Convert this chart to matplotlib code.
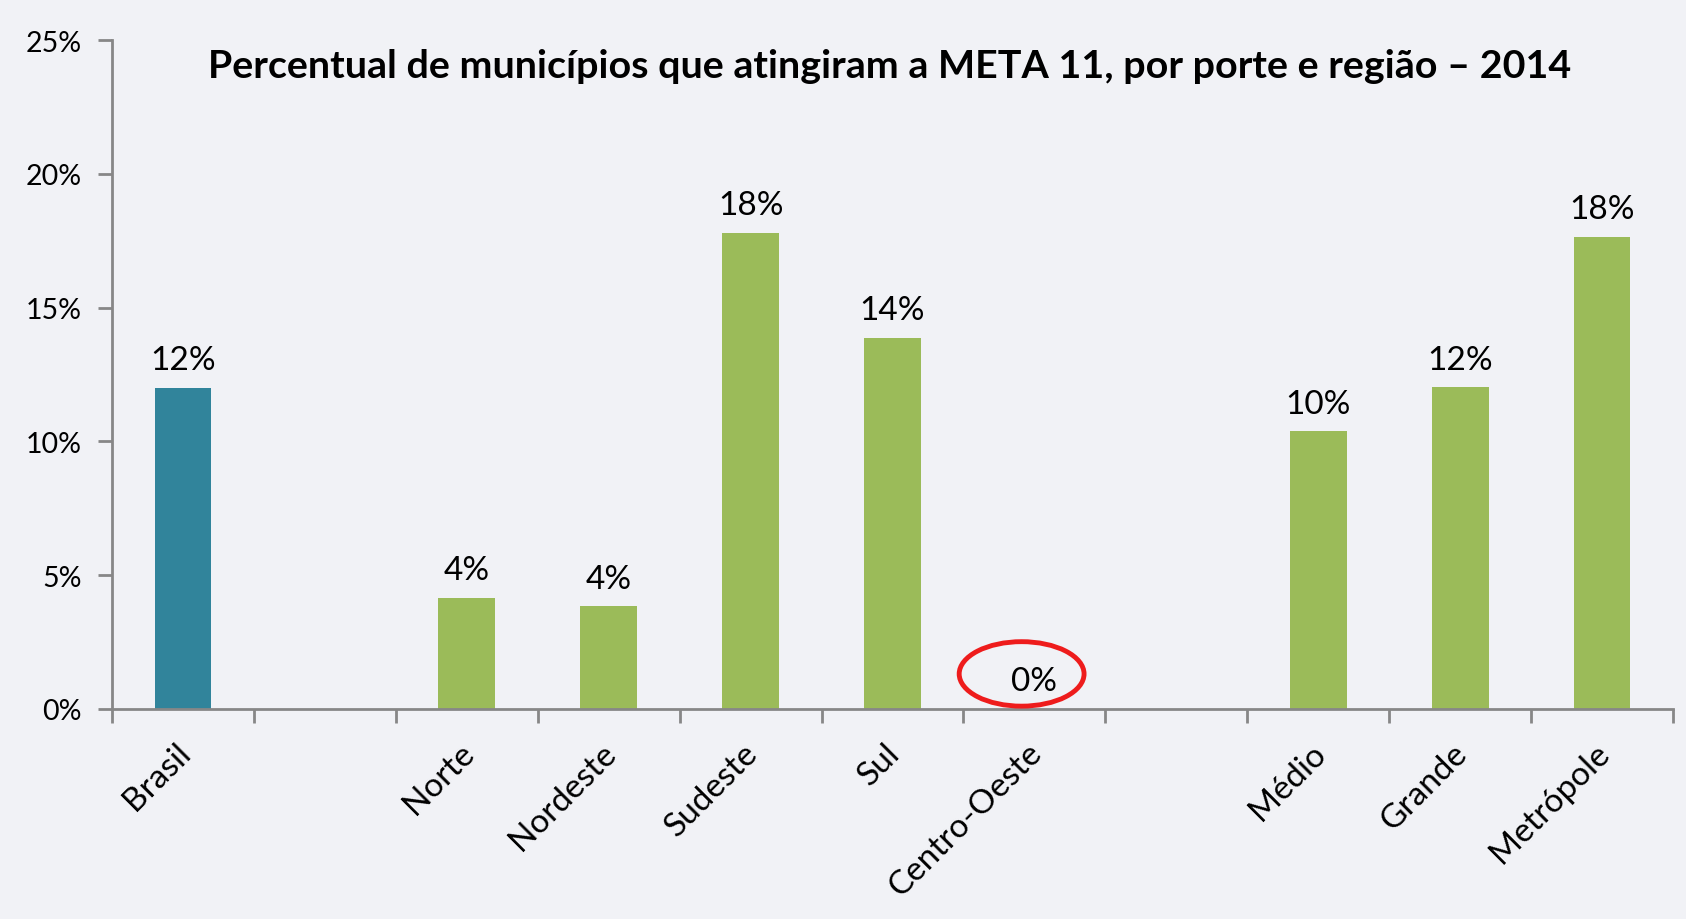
#
# Percentual de municipios que atingiram a META 11 - 2014
#
import numpy as np
import matplotlib.pyplot as plt
from matplotlib.patches import Ellipse
from matplotlib.transforms import ScaledTranslation


# Data (empty strings are gaps between groups)
categories = ['Brasil', '', 'Norte', 'Nordeste', 'Sudeste', 'Sul',
              'Centro-Oeste', '', 'Médio', 'Grande', 'Metrópole']
values = [12.0, np.nan, 4.15, 3.83, 17.8, 13.87, 0.0, np.nan, 10.38, 12.03, 17.65]
labels = ['12%', '', '4%', '4%', '18%', '14%', '0%', '', '10%', '12%', '18%']
bar_colors = ['#31849B', 'none', '#9BBB59', '#9BBB59', '#9BBB59', '#9BBB59',
              '#9BBB59', 'none', '#9BBB59', '#9BBB59', '#9BBB59']
yticks = [0, 5, 10, 15, 20, 25]
title = 'Percentual de municípios que atingiram a META 11, por porte e região – 2014'

bg = '#F1F2F6'
axis_gray = '#878787'
plt.rcParams['font.family'] = ['Lato', 'DejaVu Sans']

fig = plt.figure(figsize=(16.86, 9.2), dpi=100, facecolor=bg)
ax = fig.add_axes([0.0664, 0.2283, 0.9259, 0.7271])
ax.set_facecolor(bg)

x = np.arange(len(categories))
heights = np.nan_to_num(values)
ax.bar(x, heights, width=0.4, color=bar_colors, zorder=2)

# value labels
for xi, v, lab in zip(x, heights, labels):
    if lab:
        ax.annotate(lab, (xi, v), xytext=(0, 9), textcoords='offset points',
                    ha='center', va='bottom', fontsize=24, color='black')

# red ellipse around the 0% label
ci = categories.index('Centro-Oeste')
ax.add_patch(Ellipse((ci - 0.09, 1.31), width=0.88, height=2.41, fill=False,
                     edgecolor='#EE1C1C', linewidth=3.5, zorder=3))

ax.set_xlim(-0.5, len(categories) - 0.5)
ax.set_ylim(0, 25)
ax.set_yticks(yticks)
ax.set_yticklabels([f'{t}%' for t in yticks], fontsize=20.5)

# category boundary ticks, names centered under bars
ax.set_xticks(np.arange(len(categories) + 1) - 0.5)
ax.set_xticklabels([])
ax.set_xticks(x, minor=True)
ax.set_xticklabels(categories, minor=True, rotation=45, ha='right',
                   rotation_mode='anchor', fontsize=24)
ax.tick_params(axis='x', which='minor', length=0, pad=16)
ax.tick_params(axis='x', which='major', length=10, width=2, color=axis_gray)
ax.tick_params(axis='y', length=10, width=2, color=axis_gray, pad=12)
for lab in ax.get_xticklabels(minor=True):
    lab.set_transform(lab.get_transform() +
                      ScaledTranslation(-0.08, -0.06, fig.dpi_scale_trans))

for s in ['top', 'right']:
    ax.spines[s].set_visible(False)
for s in ['left', 'bottom']:
    ax.spines[s].set_color(axis_gray)
    ax.spines[s].set_linewidth(2)

fig.text(0.5278, 0.928, title, ha='center', va='center', fontsize=28.4,
         fontweight='bold', color='black')

plt.savefig('out.png', dpi=100, facecolor=bg)
plt.close(fig)
